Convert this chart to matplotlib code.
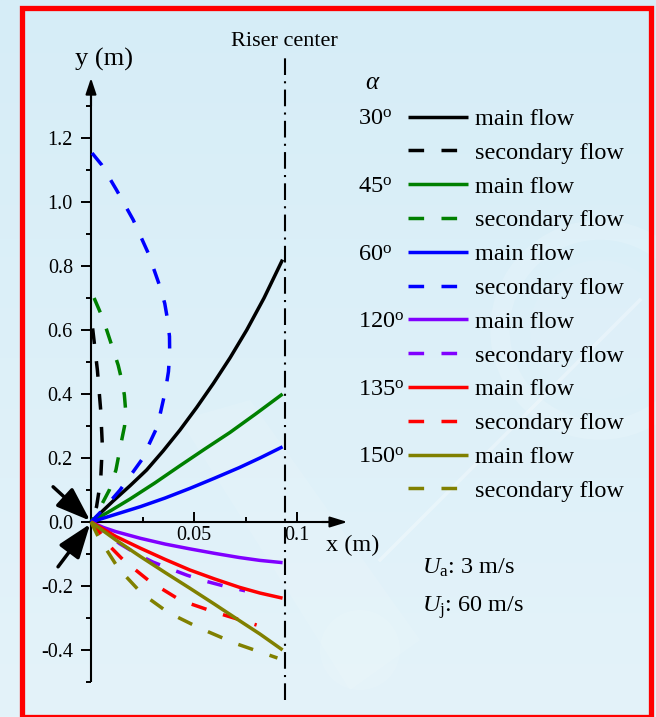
import numpy as np
import matplotlib
matplotlib.use("Agg")
import matplotlib.pyplot as plt
from matplotlib.patches import Rectangle, Circle, Polygon

plt.rcParams["font.family"] = ["Liberation Serif", "DejaVu Serif"]
plt.rcParams["mathtext.fontset"] = "custom"
plt.rcParams["mathtext.rm"] = "Liberation Serif"
plt.rcParams["mathtext.it"] = "Liberation Serif:italic"
plt.rcParams["axes.unicode_minus"] = False

W, H = 656, 717

# ---- trajectories (x, y in m) ----
angles = ["30", "45", "60", "120", "135", "150"]
colors = ["#000000", "#008000", "#0000ff", "#8000ff", "#ff0000", "#808000"]

main_x = {
    "30": [0, 0.0108, 0.0189, 0.027, 0.035, 0.0432, 0.0513, 0.0594, 0.0675,
           0.0756, 0.084, 0.093],
    "45": [0, 0.01, 0.019, 0.031, 0.043, 0.055, 0.0675, 0.08, 0.093],
    "60": [0, 0.012, 0.024, 0.036, 0.048, 0.06, 0.072, 0.082, 0.093],
    "120": [0, 0.006, 0.012, 0.024, 0.036, 0.048, 0.06, 0.072, 0.082, 0.093],
    "135": [0, 0.012, 0.024, 0.036, 0.048, 0.06, 0.072, 0.082, 0.093],
    "150": [0, 0.012, 0.024, 0.036, 0.048, 0.06, 0.072, 0.082, 0.093],
}
main_y = {
    "30": [0, 0.066, 0.113, 0.1625, 0.222, 0.2875, 0.358, 0.433, 0.513,
           0.60, 0.70, 0.82],
    "45": [0, 0.037, 0.072, 0.122, 0.175, 0.227, 0.28, 0.338, 0.40],
    "60": [0, 0.024, 0.048, 0.075, 0.105, 0.137, 0.170, 0.200, 0.235],
    "120": [0, -0.017, -0.030, -0.051, -0.069, -0.084, -0.098, -0.111,
            -0.120, -0.127],
    "135": [0, -0.045, -0.082, -0.117, -0.150, -0.178, -0.204, -0.222, -0.238],
    "150": [0, -0.056, -0.108, -0.158, -0.207, -0.257, -0.308, -0.350, -0.400],
}
sec_x = {
    "30": [0.0008, 0.0031, 0.0047, 0.0055, 0.0047, 0.0027, 0],
    "45": [0.0015, 0.0045, 0.0068, 0.0108, 0.0132, 0.0149, 0.0162, 0.0168,
           0.0163, 0.0149, 0.0121, 0.0089, 0.004, 0],
    "60": [0.0005, 0.0052, 0.0124, 0.0205, 0.0278, 0.0335, 0.0358, 0.0372,
           0.0381, 0.0382, 0.0376, 0.0362, 0.0322, 0.0246, 0.0141, 0.006, 0],
    "120": [0, 0.006, 0.014, 0.0222, 0.030, 0.0387, 0.0465, 0.0545, 0.0645,
            0.0748],
    "135": [0, 0.0031, 0.009, 0.0157, 0.0286, 0.0435, 0.0602, 0.0704, 0.0804],
    "150": [0, 0.0035, 0.0133, 0.0246, 0.0375, 0.0529, 0.0699, 0.0905],
}
sec_y = {
    "30": [0.605, 0.475, 0.35, 0.24, 0.131, 0.048, 0],
    "45": [0.70, 0.655, 0.616, 0.5375, 0.49, 0.444, 0.397, 0.35, 0.30, 0.256,
           0.1625, 0.10, 0.04, 0],
    "60": [1.153, 1.116, 1.0375, 0.944, 0.84, 0.735, 0.683, 0.631, 0.58,
           0.527, 0.47, 0.4125, 0.298, 0.194, 0.10, 0.04, 0],
    "120": [0, -0.030, -0.068, -0.100, -0.125, -0.147, -0.166, -0.183,
            -0.200, -0.215],
    "135": [0, -0.023, -0.075, -0.119, -0.186, -0.245, -0.282, -0.302, -0.322],
    "150": [0, -0.046, -0.145, -0.223, -0.283, -0.332, -0.379, -0.425],
}

riser_x = 0.094
x_ticks = [0.05, 0.1]
x_ticklabels = ["0.05", "0.1"]
y_ticks = [-0.4, -0.2, 0.0, 0.2, 0.4, 0.6, 0.8, 1.0, 1.2]
y_ticklabels = ["-0.4", "-0.2", "0.0", "0.2", "0.4", "0.6", "0.8", "1.0", "1.2"]

fig = plt.figure(figsize=(W / 100, H / 100), dpi=100)


def px(x, y):
    """pixel position (from top-left) -> figure fraction"""
    return x / W, 1 - y / H


# ---- background ----
bg = fig.add_axes([0, 0, 1, 1], zorder=-10)
bg.set_xlim(0, W)
bg.set_ylim(H, 0)
bg.axis("off")
top = np.array([214, 237, 247]) / 255
bot = np.array([228, 243, 250]) / 255
t = np.linspace(0, 1, 256)[:, None, None]
grad = top * (1 - t) + bot * t
bg.imshow(np.repeat(grad, 2, axis=1), extent=[0, W, H, 0], aspect="auto")
# faint watermark shapes
bg.add_patch(Circle((600, 330), 100, fill=False, ec="white", lw=14, alpha=0.15))
bg.add_patch(Circle((600, 330), 70, fc="white", ec="none", alpha=0.06))
bg.plot([380, 640], [560, 300], color="white", lw=2.5, alpha=0.3)
bg.add_patch(Polygon([[180, 420], [250, 400], [420, 640], [350, 690]],
                     closed=True, fc="white", ec="none", alpha=0.10))
bg.add_patch(Circle((360, 650), 40, fc="white", ec="none", alpha=0.10))
# red frame
bg.add_patch(Rectangle((21.5, 7.5), 629, 709, fill=False, ec="#ff0000", lw=3.8))

# ---- main axes ----
x0, x1 = -0.03, 0.135
y0, y1 = -0.6, 1.5
ox, oy, sx, sy = 91.0, 522.0, 2060.0, 320.0
left_px = ox + sx * x0
right_px = ox + sx * x1
top_px = oy - sy * y1
bot_px = oy - sy * y0
ax = fig.add_axes([left_px / W, 1 - bot_px / H, (right_px - left_px) / W,
                   (bot_px - top_px) / H])
ax.set_facecolor("none")
ax.set_xlim(x0, x1)
ax.set_ylim(y0, y1)

for s in ["top", "right"]:
    ax.spines[s].set_visible(False)
ax.spines["left"].set_position(("data", 0))
ax.spines["bottom"].set_position(("data", 0))
ax.spines["left"].set_bounds(-0.5, 1.35)
ax.spines["bottom"].set_bounds(0, 0.118)
for s in ["left", "bottom"]:
    ax.spines[s].set_linewidth(1.5)
    ax.spines[s].set_capstyle("butt")

ax.set_xticks(x_ticks)
ax.set_xticklabels(x_ticklabels)
ax.set_xticks([0.025, 0.075], minor=True)
ax.set_yticks(y_ticks)
ax.set_yticklabels(y_ticklabels)
ax.set_yticks([-0.5, -0.3, -0.1, 0.1, 0.3, 0.5, 0.7, 0.9, 1.1, 1.3], minor=True)
ax.tick_params(axis="x", which="both", direction="in", width=1.4, labelsize=14.5, pad=3)
ax.tick_params(axis="x", which="major", length=7)
ax.tick_params(axis="x", which="minor", length=3.6)
ax.tick_params(axis="y", which="both", direction="out", width=1.4, labelsize=14.5, pad=6)
ax.tick_params(axis="y", which="major", length=7)
ax.tick_params(axis="y", which="minor", length=3.6)

# axis arrow heads
ax.annotate("", xy=(0, 1.3875), xytext=(0, 1.30),
            arrowprops=dict(arrowstyle="-|>,head_length=0.6,head_width=0.2",
                            mutation_scale=16, lw=1.5, color="k",
                            shrinkA=0, shrinkB=0))
ax.annotate("", xy=(0.1245, 0), xytext=(0.112, 0),
            arrowprops=dict(arrowstyle="-|>,head_length=0.65,head_width=0.2",
                            mutation_scale=16, lw=1.5, color="k",
                            shrinkA=0, shrinkB=0))

# riser centre line
ax.plot([riser_x, riser_x], [-0.556, 1.453], color="k", lw=1.5,
        linestyle=(0, (8, 3, 1, 3)), clip_on=False, zorder=1)

handles, labels = [], []
for a, c in zip(angles, colors):
    lm, = ax.plot(main_x[a], main_y[a], color=c, lw=2.5, zorder=3,
                  solid_capstyle="butt", solid_joinstyle="round")
    ls, = ax.plot(sec_x[a], sec_y[a], color=c, lw=2.5, zorder=3,
                  linestyle=(0, (4.5, 5)), dash_capstyle="butt",
                  dash_joinstyle="round")
    handles += [lm, ls]
    labels += ["main flow", "secondary flow"]

# inlet jets arrows
for start, tip in [((-0.0184, 0.110), (-0.0004, 0.004)),
                   ((-0.0160, -0.140), (-0.0004, -0.006))]:
    ax.annotate("", xy=tip, xytext=start,
                arrowprops=dict(arrowstyle="-|>,head_length=1.0,head_width=0.36",
                                mutation_scale=21, lw=2.5, color="k",
                                shrinkA=0, shrinkB=0), zorder=4)

# axis labels and annotations
ax.text(0.0063, 1.444, "y (m)", fontsize=19, ha="center", va="center")
ax.text(0.127, -0.072, "x (m)", fontsize=17.5, ha="center", va="center",
        clip_on=False)
ax.text(riser_x, 1.50, "Riser center", fontsize=16, ha="center", va="center",
        clip_on=False)

# legend
leg = fig.legend(handles, labels, loc="upper left",
                 bbox_to_anchor=px(408, 108), frameon=False,
                 prop={"size": 17.5}, handlelength=2.47, handletextpad=0.29,
                 labelspacing=0.485, borderpad=0, borderaxespad=0)

fig.text(*px(373, 83), r"$\alpha$", fontsize=18, ha="center", va="center")

fig.canvas.draw()
rend = fig.canvas.get_renderer()
inv = fig.transFigure.inverted()
for i, a in enumerate(angles):
    bb = leg.get_texts()[2 * i].get_window_extent(rend)
    yc = (bb.y0 + bb.y1) / 2
    _, yf = inv.transform((0, yc))
    fig.text(358 / W, yf, a + r"$^{\mathrm{o}}$", fontsize=17.5, ha="left",
             va="center")

fig.text(*px(422, 568), r"$U_{\mathrm{a}}$: 3 m/s", fontsize=17.5, ha="left",
         va="center")
fig.text(*px(422, 608), r"$U_{\mathrm{j}}$: 60 m/s", fontsize=17.5, ha="left",
         va="center")

fig.savefig("out.png", dpi=100)
